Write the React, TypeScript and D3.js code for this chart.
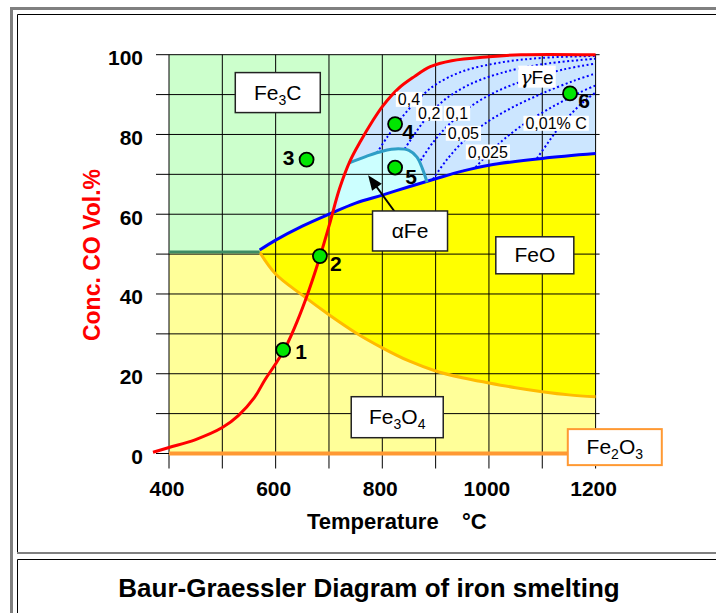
import { useEffect, useRef } from "react";
import * as d3 from "d3";

const W = 716;
const H = 613;

// equilibrium curves, temperature in °C against CO vol.%
const boudouardT = [370, 400, 450, 500, 530, 560, 580, 600, 620, 640, 660, 680, 700, 720, 740, 760, 780, 800, 830, 860, 890, 930, 1000, 1060, 1200];
const boudouardCO = [0.3, 1.5, 3.5, 6.5, 9.5, 14, 18.5, 22.5, 27, 33, 40, 48, 57, 66.5, 73.5, 78.5, 83, 87, 91.5, 94.5, 97, 98.5, 99.5, 100, 100];

const feFeoT = [570, 600, 650, 700, 750, 800, 850, 900, 950, 1000, 1100, 1200];
const feFeoCO = [51, 53.5, 57, 60, 62.8, 64.8, 66.9, 68.9, 70.8, 72.3, 74, 75.2];

const feoFe3o4T = [570, 600, 650, 700, 750, 800, 850, 900, 950, 1000, 1050, 1100, 1150, 1200];
const feoFe3o4CO = [50.5, 45, 39.7, 34.8, 30.3, 26.5, 23.2, 20.7, 19, 17.7, 16.5, 15.5, 14.7, 14.2];

const fe3cFe3o4T = [400, 570];
const fe3cFe3o4CO = [50.5, 50.5];

const alphaGammaT = [737, 770, 800, 830, 850, 865, 875, 884];
const alphaGammaCO = [72.8, 74.5, 75.8, 76.4, 76, 74.3, 71.5, 68];

// iso-carbon lines in gamma iron
const iso04T = [790, 810, 835, 865, 900, 950, 1020, 1100, 1200];
const iso04CO = [75.4, 79.5, 84, 88.5, 92.5, 95.8, 98, 99.2, 99.7];
const iso02T = [842, 860, 885, 915, 960, 1020, 1100, 1200];
const iso02CO = [76.4, 80, 84.5, 88.5, 92.3, 95.3, 97.6, 99];
const iso01T = [872, 895, 925, 960, 1010, 1070, 1140, 1200];
const iso01CO = [73.5, 78, 82.5, 86.5, 90.5, 93.7, 96.3, 97.8];
const iso005T = [895, 920, 950, 990, 1040, 1100, 1160, 1200];
const iso005CO = [68.8, 73.5, 78, 82.5, 86.5, 90.3, 93.5, 95.3];
const iso0025T = [975, 1000, 1030, 1070, 1120, 1170, 1200];
const iso0025CO = [71.8, 75.3, 79, 83, 87, 90.5, 92.3];
const iso001T = [1090, 1110, 1130, 1155, 1180, 1200];
const iso001CO = [74, 77.8, 81.5, 85.3, 88.5, 90.5];

const isoLabels = ["0,4", "0,2", "0,1", "0,05", "0,025", "0,01% C", "γFe"];
const isoLabelT = [850, 888, 940, 952, 998, 1126, 1090];
const isoLabelCO = [88.8, 85.3, 85.3, 80.3, 75.6, 82.8, 94.5];

const phaseNames = ["Fe3C", "αFe", "FeO", "Fe3O4", "Fe2O3"];
const phaseT = [604, 852, 1086, 828, 1236];
const phaseCO = [90.5, 55.8, 49.7, 9.1, 1.6];

const pointIds = ["1", "2", "3", "4", "5", "6"];
const pointT = [614, 683, 658, 824, 824, 1152];
const pointCO = [26, 49.5, 73.7, 82.6, 71.7, 90.3];

const xTicks = [400, 600, 800, 1000, 1200];
const yTicks = [0, 20, 40, 60, 80, 100];

// layout bits (pixels)
const boxW = [85, 75, 78, 92, 94];
const boxH = [40, 40, 37, 41, 36];
const boxStroke = ["#222", "#222", "#222", "#222", "#ff9933"];
const pointLabelDx = [18, 16, -18, 13, 16, 14];
const pointLabelDy = [2, 7, -2, 7, 9, 7];

export default function App() {
  const svgRef = useRef<SVGSVGElement>(null);

  useEffect(() => {
    const svg = d3.select(svgRef.current!);
    svg.selectAll("*").remove();
    const font = "'Liberation Sans', Arial, Helvetica, sans-serif";

    const x = d3.scaleLinear().domain([400, 1200]).range([169, 595.6]);
    const y = d3.scaleLinear().domain([0, 100]).range([453.5, 54.7]);

    const zip = (a: number[], b: number[]) => a.map((t, i) => [t, b[i]] as [number, number]);
    const curve = d3
      .line<[number, number]>()
      .x((d) => x(d[0]))
      .y((d) => y(d[1]))
      .curve(d3.curveCatmullRom.alpha(0.5));
    const P = (t: number, c: number) => `${x(t)},${y(c)}`;
    const rev = (a: [number, number][]) => a.slice().reverse();
    const cont = (a: [number, number][]) => curve(a)!.replace(/^M/, "L");

    const red = zip(boudouardT, boudouardCO);
    const blue = zip(feFeoT, feFeoCO);
    const gold = zip(feoFe3o4T, feoFe3o4CO);
    const teal = zip(alphaGammaT, alphaGammaCO);

    // page frame (table look)
    svg.append("path").attr("d", `M11.5,${H}V8.5H${W}`).attr("fill", "none").attr("stroke", "#808080").attr("stroke-width", 3);
    svg.append("path").attr("d", `M17.5,553V14.5H${W}`).attr("fill", "none").attr("stroke", "#000").attr("stroke-width", 1);
    svg.append("path").attr("d", `M17,553H${W}`).attr("fill", "none").attr("stroke", "#808080").attr("stroke-width", 2);
    svg.append("path").attr("d", `M17.5,${H}V559.5H${W}`).attr("fill", "none").attr("stroke", "#000").attr("stroke-width", 1);

    const defs = svg.append("defs");
    defs.append("clipPath").attr("id", "aboveBlue").append("path")
      .attr("d", curve(blue) + `L${P(1200, 100)}L${P(570, 100)}Z`);
    defs.append("clipPath").attr("id", "rightOfRed").append("path")
      .attr("d", curve(red) + `L${P(1260, 100)}L${P(1260, -5)}Z`);

    // phase fields
    svg.append("rect")
      .attr("x", x(400)).attr("y", y(100))
      .attr("width", x(1200) - x(400)).attr("height", y(0) - y(100))
      .attr("fill", "#ccffcc");
    svg.append("path")
      .attr("d", `M${P(400, 0)}L${P(1200, 0)}` + cont(rev(gold)) + `L${P(400, 50.5)}Z`)
      .attr("fill", "#ffff99");
    svg.append("path")
      .attr("d", curve(gold) + cont(rev(blue)) + "Z")
      .attr("fill", "#ffff00");

    const feZone = svg.append("g").attr("clip-path", "url(#aboveBlue)")
      .append("g").attr("clip-path", "url(#rightOfRed)");
    feZone.append("rect")
      .attr("x", x(400)).attr("y", y(100))
      .attr("width", x(1200) - x(400)).attr("height", y(0) - y(100))
      .attr("fill", "#cce6ff");
    feZone.append("path")
      .attr("d", curve(teal) + `L${P(886, 55)}L${P(720, 55)}L${P(720, 72.8)}Z`)
      .attr("fill", "#ccffff");

    // grid + ticks
    const grid = svg.append("g").attr("stroke", "#000").attr("stroke-width", 1);
    d3.range(400, 1201, 100).forEach((t) => {
      grid.append("line").attr("x1", x(t)).attr("x2", x(t)).attr("y1", y(100)).attr("y2", y(0) + 15);
    });
    d3.range(0, 101, 10).forEach((c) => {
      grid.append("line").attr("x1", x(400) - 13).attr("x2", x(1200) + 4).attr("y1", y(c)).attr("y2", y(c));
    });

    // dotted iso-carbon lines
    const isoZone = svg.append("g").attr("clip-path", "url(#aboveBlue)")
      .append("g").attr("clip-path", "url(#rightOfRed)");
    [
      zip(iso04T, iso04CO),
      zip(iso02T, iso02CO),
      zip(iso01T, iso01CO),
      zip(iso005T, iso005CO),
      zip(iso0025T, iso0025CO),
      zip(iso001T, iso001CO),
    ].forEach((d) => {
      isoZone.append("path").attr("d", curve(d)).attr("fill", "none")
        .attr("stroke", "#0000ff").attr("stroke-width", 2).attr("stroke-dasharray", "2,2.5");
    });

    // boundary curves
    const stroke = (d: string, color: string, w = 3) =>
      svg.append("path").attr("d", d).attr("fill", "none").attr("stroke", color)
        .attr("stroke-width", w).attr("stroke-linejoin", "round");
    stroke(curve(gold)!, "#ffbb00");
    stroke(curve(zip(fe3cFe3o4T, fe3cFe3o4CO))!, "#3c8c64");
    stroke(curve(blue)!, "#0000ff");
    stroke(curve(teal)!, "#2e9ec6");
    stroke(curve(red)!, "#ff0000");
    stroke(`M${P(400, 0)}L${P(1200, 0)}`, "#ff9933", 4);

    // iso labels with white backing
    isoLabels.forEach((lab, i) => {
      const g = svg.append("g");
      const big = lab === "γFe";
      const t = g.append("text")
        .attr("x", x(isoLabelT[i])).attr("y", y(isoLabelCO[i]))
        .attr("text-anchor", "middle").attr("dominant-baseline", "central")
        .attr("font-family", big ? "'DejaVu Serif', serif" : font)
        .attr("font-size", big ? 19 : 16).attr("fill", "#000");
      if (big) {
        t.append("tspan").attr("font-style", "italic").text("γ");
        t.append("tspan").attr("font-family", font).text("Fe");
      } else t.text(lab);
      const bb = (t.node() as SVGTextElement).getBBox();
      g.insert("rect", "text")
        .attr("x", bb.x - 2).attr("y", bb.y + (big ? 0 : 1))
        .attr("width", bb.width + 4).attr("height", bb.height - (big ? 0 : 2))
        .attr("fill", "#fff");
    });

    // arrow towards alpha iron
    const tail: [number, number] = [x(824), y(60.5)];
    const tip: [number, number] = [x(773.4), y(69.8)];
    const ang = Math.atan2(tip[1] - tail[1], tip[0] - tail[0]);
    const back = (len: number, off: number) => [
      tip[0] - len * Math.cos(ang) + off * Math.sin(ang),
      tip[1] - len * Math.sin(ang) - off * Math.cos(ang),
    ];
    svg.append("line").attr("x1", tail[0]).attr("y1", tail[1])
      .attr("x2", back(10, 0)[0]).attr("y2", back(10, 0)[1])
      .attr("stroke", "#000").attr("stroke-width", 2);
    svg.append("polygon")
      .attr("points", [tip, back(15, 6), back(15, -6)].map((p) => p.join(",")).join(" "))
      .attr("fill", "#000");

    // phase boxes
    phaseNames.forEach((name, i) => {
      const cx = x(phaseT[i]);
      const cy = y(phaseCO[i]);
      svg.append("rect")
        .attr("x", cx - boxW[i] / 2).attr("y", cy - boxH[i] / 2)
        .attr("width", boxW[i]).attr("height", boxH[i])
        .attr("fill", "#fff").attr("stroke", boxStroke[i])
        .attr("stroke-width", i === 4 ? 2 : 1.5);
      const t = svg.append("text")
        .attr("x", cx).attr("y", cy + 7)
        .attr("text-anchor", "middle").attr("font-family", font)
        .attr("font-size", 21).attr("fill", "#000");
      let sub = false;
      name.split(/(\d)/).filter((s) => s).forEach((part) => {
        const isSub = /\d/.test(part);
        const ts = t.append("tspan").text(part);
        if (isSub) ts.attr("font-size", 14).attr("dy", sub ? 0 : 5);
        else if (sub) ts.attr("dy", -5);
        sub = isSub;
      });
    });

    // numbered points
    pointIds.forEach((id, i) => {
      const cx = x(pointT[i]);
      const cy = y(pointCO[i]);
      svg.append("circle").attr("cx", cx).attr("cy", cy).attr("r", 7)
        .attr("fill", "#00e600").attr("stroke", "#000").attr("stroke-width", 1.8);
      svg.append("text")
        .attr("x", cx + pointLabelDx[i]).attr("y", cy + pointLabelDy[i])
        .attr("text-anchor", "middle").attr("dominant-baseline", "central")
        .attr("font-family", font).attr("font-weight", "bold")
        .attr("font-size", 21).attr("fill", "#000").text(id);
    });

    // axis labels
    yTicks.forEach((c) => {
      svg.append("text").attr("x", 143).attr("y", y(c) + 3)
        .attr("text-anchor", "end").attr("dominant-baseline", "central")
        .attr("font-family", font).attr("font-weight", "bold").attr("font-size", 21)
        .attr("fill", "#000").text(c);
    });
    xTicks.forEach((t) => {
      svg.append("text").attr("x", x(t) - 2).attr("y", 488)
        .attr("text-anchor", "middle").attr("dominant-baseline", "central")
        .attr("font-family", font).attr("font-weight", "bold").attr("font-size", 21)
        .attr("fill", "#000").text(t);
    });
    svg.append("text").attr("x", 307).attr("y", 529)
      .attr("font-family", font).attr("font-weight", "bold").attr("font-size", 22)
      .attr("fill", "#000").text("Temperature");
    svg.append("text").attr("x", 462).attr("y", 529)
      .attr("font-family", font).attr("font-weight", "bold").attr("font-size", 22)
      .attr("fill", "#000").text("°C");
    svg.append("text")
      .attr("transform", "translate(100,255) rotate(-90)")
      .attr("text-anchor", "middle")
      .attr("font-family", font).attr("font-weight", "bold").attr("font-size", 23)
      .attr("fill", "#ff0000").text("Conc. CO Vol.%");

    // caption
    svg.append("text").attr("x", 369).attr("y", 597)
      .attr("text-anchor", "middle")
      .attr("font-family", font).attr("font-weight", "bold").attr("font-size", 26)
      .attr("fill", "#000").text("Baur-Graessler Diagram of iron smelting");
  }, []);

  return (
    <svg
      ref={svgRef}
      width={W}
      height={H}
      style={{ position: "absolute", left: 0, top: 0, background: "#fff" }}
    />
  );
}
